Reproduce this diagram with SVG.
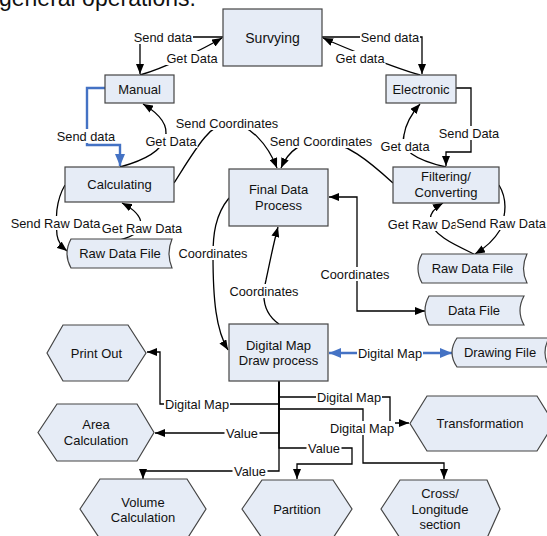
<svg xmlns="http://www.w3.org/2000/svg" width="547" height="536" viewBox="0 0 547 536">
<style>
.n{fill:#E6ECF6;stroke:#444;stroke-width:1.2}
.t{font-family:"Liberation Sans",Arial,sans-serif;font-size:13px;fill:#111;text-anchor:middle}
.c{fill:none;stroke:#000;stroke-width:1.3}
.b{fill:none;stroke:#4472C4;stroke-width:2.4}
.lb rect{fill:#fff}
.lb text{font-family:"Liberation Sans",Arial,sans-serif;font-size:12.8px;fill:#111;text-anchor:middle}
</style>
<defs>
<marker id="ah" viewBox="0 0 10 8" refX="10" refY="4" markerWidth="10" markerHeight="8" markerUnits="userSpaceOnUse" orient="auto-start-reverse"><path d="M0,0 L10,4 L0,8 z" fill="#000"/></marker>
<marker id="bh" viewBox="0 0 12 10" refX="12" refY="5" markerWidth="12" markerHeight="10" markerUnits="userSpaceOnUse" orient="auto-start-reverse"><path d="M0,0 L12,5 L0,10 z" fill="#4472C4"/></marker>
</defs>
<rect width="547" height="536" fill="#fff"/>
<text x="-1" y="6" font-family="'Liberation Sans',Arial,sans-serif" font-size="23px" fill="#111">general operations:</text>

<g id="connectors">
<path class="c" d="M223,37 H140 V74" marker-end="url(#ah)"/>
<path class="c" d="M140,75 C165,68 205,48 222,38" marker-end="url(#ah)"/>
<path class="c" d="M322,37 H422 V74" marker-end="url(#ah)"/>
<path class="c" d="M420,75 C395,68 345,48 323,38" marker-end="url(#ah)"/>
<path class="b" d="M105,88 H87 V145 H120 V166" marker-end="url(#bh)"/>
<path class="c" d="M120,167 C175,152 178,125 143,104" marker-end="url(#ah)"/>
<path class="c" d="M174,183 C195,150 210,123 228,123 C250,123 268,145 277,168" marker-end="url(#ah)"/>
<path class="c" d="M393,183 C370,162 345,141 321,141 C300,141 288,152 281,168" marker-end="url(#ah)"/>
<path class="c" d="M456,88 H471 V152 H446 V166" marker-end="url(#ah)"/>
<path class="c" d="M446,167 C415,160 400,150 404,135 C406,122 413,112 420,104" marker-end="url(#ah)"/>
<path class="c" d="M65,185 C56,200 55,220 57,235 C58,242 62,247 67,251" marker-end="url(#ah)"/>
<path class="c" d="M120,240 C150,232 145,215 122,203" marker-end="url(#ah)"/>
<path class="c" d="M229,198 C215,215 213,235 213,255 C213,300 216,330 228,350" marker-end="url(#ah)"/>
<path class="c" d="M279,324 C262,312 262,295 266,280 C270,262 273,245 278,227" marker-end="url(#ah)"/>
<path class="c" d="M329,197 H357 V311 H425" marker-start="url(#ah)" marker-end="url(#ah)"/>
<path class="c" d="M499,185 C508,200 506,215 500,230 C494,240 485,248 475,254" marker-end="url(#ah)"/>
<path class="c" d="M474,254 C455,245 432,235 430,220 C430,212 436,207 443,203" marker-end="url(#ah)"/>
<path class="b" d="M329,353 H452" marker-start="url(#bh)" marker-end="url(#bh)"/>
<path class="c" d="M279,381 V404 H160 V352 H147" marker-end="url(#ah)"/>
<path class="c" d="M279,381 V433 H155" marker-end="url(#ah)"/>
<path class="c" d="M279,381 V471 H143 V479" marker-end="url(#ah)"/>
<path class="c" d="M279,381 V397 H390 V423 H409" marker-end="url(#ah)"/>
<path class="c" d="M279,381 V409 H363 V463 H444 V479" marker-end="url(#ah)"/>
<path class="c" d="M279,381 V448 H352 V464 H297 V479" marker-end="url(#ah)"/>

<g class="lb"><rect x="133" y="30" width="60" height="14"/><text x="163" y="41.5">Send data</text></g>
<g class="lb"><rect x="165.5" y="51" width="53" height="14"/><text x="192" y="62.5">Get Data</text></g>
<g class="lb"><rect x="360" y="30" width="60" height="14"/><text x="390" y="41.5">Send data</text></g>
<g class="lb"><rect x="334.5" y="51" width="51" height="14"/><text x="360" y="62.5">Get data</text></g>
<g class="lb"><rect x="56" y="129" width="60" height="14"/><text x="86" y="140.5">Send data</text></g>
<g class="lb"><rect x="144.5" y="134" width="53" height="14"/><text x="171" y="145.5">Get Data</text></g>
<g class="lb"><rect x="175" y="116" width="104" height="14"/><text x="227" y="127.5">Send Coordinates</text></g>
<g class="lb"><rect x="269" y="134" width="104" height="14"/><text x="321" y="145.5">Send Coordinates</text></g>
<g class="lb"><rect x="438" y="126" width="62" height="14"/><text x="469" y="137.5">Send Data</text></g>
<g class="lb"><rect x="379.5" y="139" width="51" height="14"/><text x="405" y="150.5">Get data</text></g>
<g class="lb"><rect x="10" y="216" width="91" height="14"/><text x="55.5" y="227.5">Send Raw Data</text></g>
<g class="lb"><rect x="101" y="221" width="82" height="14"/><text x="142" y="232.5">Get Raw Data</text></g>
<g class="lb"><rect x="387" y="217" width="82" height="14"/><text x="428" y="228.5">Get Raw Data</text></g>
<g class="lb"><rect x="455.5" y="216" width="91" height="14"/><text x="501" y="227.5">Send Raw Data</text></g>
<g class="lb"><rect x="177.5" y="246" width="71" height="14"/><text x="213" y="257.5">Coordinates</text></g>
<g class="lb"><rect x="228.5" y="284" width="71" height="14"/><text x="264" y="295.5">Coordinates</text></g>
<g class="lb"><rect x="319.5" y="267" width="71" height="14"/><text x="355" y="278.5">Coordinates</text></g>
<g class="lb"><rect x="357" y="346" width="66" height="14"/><text x="390" y="357.5">Digital Map</text></g>
<g class="lb"><rect x="164" y="397" width="66" height="14"/><text x="197" y="408.5">Digital Map</text></g>
<g class="lb"><rect x="224.5" y="426" width="35" height="14"/><text x="242" y="437.5">Value</text></g>
<g class="lb"><rect x="232.5" y="464" width="35" height="14"/><text x="250" y="475.5">Value</text></g>
<g class="lb"><rect x="316" y="390" width="66" height="14"/><text x="349" y="401.5">Digital Map</text></g>
<g class="lb"><rect x="329" y="421" width="66" height="14"/><text x="362" y="432.5">Digital Map</text></g>
<g class="lb"><rect x="306.5" y="441" width="35" height="14"/><text x="324" y="452.5">Value</text></g>
</g>

<g id="survying"><rect class="n" x="223" y="9" width="99" height="57"/><text class="t" x="272.5" y="42.5" style="font-size:14px">Survying</text></g>
<g id="manual"><rect class="n" x="105" y="75" width="69" height="28"/><text class="t" x="139.5" y="93.5">Manual</text></g>
<g id="electronic"><rect class="n" x="386" y="75" width="70" height="28"/><text class="t" x="421" y="93.5">Electronic</text></g>
<g id="calculating"><rect class="n" x="65" y="167" width="109" height="35"/><text class="t" x="119.5" y="189">Calculating</text></g>
<g id="final"><rect class="n" x="229" y="169" width="99" height="57"/><text class="t" x="278.5" y="193.5">Final Data</text><text class="t" x="278.5" y="209.5">Process</text></g>
<g id="filtering"><rect class="n" x="393" y="167" width="106" height="36"/><text class="t" x="446" y="180.5">Filtering/</text><text class="t" x="446" y="197">Converting</text></g>
<g id="rawfile1"><path class="n" d="M71,239 L172,239 Q166,253.5 172,268 L71,268 Q63,253.5 71,239 Z"/><text class="t" x="120" y="258">Raw Data File</text></g>
<g id="rawfile2"><path class="n" d="M422,254 L527,254 Q520,268.5 527,283 L422,283 Q414,268.5 422,254 Z"/><text class="t" x="472.5" y="273">Raw Data File</text></g>
<g id="datafile"><path class="n" d="M429,296 L524,296 Q516,310.5 524,325 L429,325 Q421,310.5 429,296 Z"/><text class="t" x="474" y="315">Data File</text></g>
<g id="drawingfile"><path class="n" d="M457,338 L549,338 Q541,352.5 549,367 L457,367 Q447,352.5 457,338 Z"/><text class="t" x="500" y="356.5">Drawing File</text></g>
<g id="digitalmap"><rect class="n" x="229" y="324" width="99" height="57"/><text class="t" x="278.5" y="349.5">Digital Map</text><text class="t" x="278.5" y="365">Draw process</text></g>
<g id="printout"><path class="n" d="M47,353 L63,325 L128,325 L146,353 L128,381 L63,381 Z"/><text class="t" x="96.5" y="357.5">Print Out</text></g>
<g id="area"><path class="n" d="M38,432.5 L57,404 L137,404 L154,432.5 L137,461 L57,461 Z"/><text class="t" x="96" y="428.8">Area</text><text class="t" x="96" y="444.5">Calculation</text></g>
<g id="volume"><path class="n" d="M80,509 L100,479 L187,479 L206,509 L187,539 L100,539 Z"/><text class="t" x="143" y="506.5">Volume</text><text class="t" x="143" y="521.5">Calculation</text></g>
<g id="partition"><path class="n" d="M242,509 L262,480 L333,480 L352,509 L333,538 L262,538 Z"/><text class="t" x="297" y="513.5">Partition</text></g>
<g id="cross"><path class="n" d="M381,509 L400,480 L487,480 L500,509 L487,538 L400,538 Z"/><text class="t" x="440" y="497.5">Cross/</text><text class="t" x="440" y="513.5">Longitude</text><text class="t" x="440" y="528.5">section</text></g>
<g id="transformation"><path class="n" d="M410,423.5 L427,396 L537,396 L554,423.5 L537,451 L427,451 Z"/><text class="t" x="480" y="427.5">Transformation</text></g>
</svg>
